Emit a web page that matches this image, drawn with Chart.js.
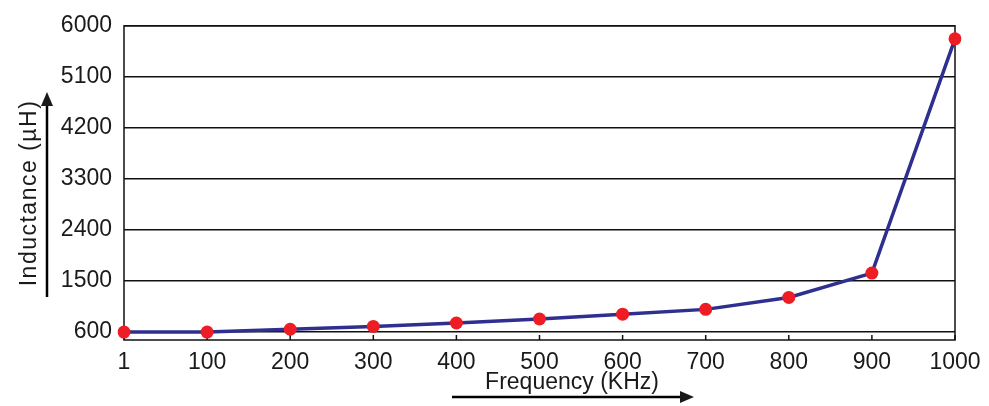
<!DOCTYPE html>
<html>
<head>
<meta charset="utf-8">
<script src="https://cdn.jsdelivr.net/npm/chart.js@4.4.1/dist/chart.umd.min.js"></script>
<style>
  html, body { margin: 0; padding: 0; background: #fff; }
  #wrap { width: 989px; height: 406px; position: relative; }
</style>
</head>
<body>
<div id="wrap"><canvas id="chart"></canvas></div>
<script>
// frequency categories (KHz) and inductance readings (µH)
const FREQ_LABELS = ['1', '100', '200', '300', '400', '500', '600', '700', '800', '900', '1000'];
const INDUCTANCE  = [600, 600, 650, 700, 760, 830, 915, 1000, 1210, 1640, 5770];
const Y_TICKS     = [600, 1500, 2400, 3300, 4200, 5100, 6000];

const FONT = { family: '"Liberation Sans", Arial, sans-serif', size: 23 };
const TEXT_COLOR = '#1a1a1a';

// frame, inner x ticks, axis titles and the two arrows
const decorPlugin = {
  id: 'decor',
  beforeDatasetsDraw(chart) {
    const { ctx, chartArea: a, scales } = chart;
    ctx.save();
    ctx.strokeStyle = '#111';
    ctx.lineWidth = 1.5;
    ctx.strokeRect(a.left, a.top, a.right - a.left, a.bottom - a.top);
    // small tick marks pointing up into the plot
    scales.x.ticks.forEach((t, i) => {
      const x = scales.x.getPixelForTick(i);
      ctx.beginPath();
      ctx.moveTo(x, a.bottom);
      ctx.lineTo(x, a.bottom - 5);
      ctx.stroke();
    });
    ctx.restore();
  },
  afterDraw(chart) {
    const { ctx } = chart;
    ctx.save();
    ctx.fillStyle = TEXT_COLOR;
    ctx.strokeStyle = '#000';
    ctx.font = `${FONT.size}px ${FONT.family}`;
    ctx.textAlign = 'center';
    ctx.textBaseline = 'middle';

    // x title + arrow
    ctx.fillText('Frequency (KHz)', 572, 383);
    ctx.lineWidth = 2.5;
    ctx.beginPath(); ctx.moveTo(452, 397); ctx.lineTo(682, 397); ctx.stroke();
    ctx.beginPath(); ctx.moveTo(694, 397); ctx.lineTo(680, 391); ctx.lineTo(680, 403); ctx.closePath(); ctx.fill();

    // y title + arrow
    ctx.save();
    ctx.translate(30, 193);
    ctx.rotate(-Math.PI / 2);
    ctx.letterSpacing = '1.5px';
    ctx.fillText('Inductance (µH)', 0, 0);
    ctx.restore();
    ctx.beginPath(); ctx.moveTo(47, 297); ctx.lineTo(47, 104); ctx.stroke();
    ctx.beginPath(); ctx.moveTo(47, 92); ctx.lineTo(41, 106); ctx.lineTo(53, 106); ctx.closePath(); ctx.fill();
    ctx.restore();
  }
};

new Chart(document.getElementById('chart'), {
  type: 'line',
  data: {
    labels: FREQ_LABELS,
    datasets: [{
      data: INDUCTANCE,
      borderColor: '#2e2f8f',
      borderWidth: 3.5,
      tension: 0,
      pointRadius: 6.5,
      pointBackgroundColor: '#ee1c25',
      pointBorderColor: '#ee1c25',
      pointBorderWidth: 0
    }]
  },
  options: {
    responsive: true,
    maintainAspectRatio: false,
    animation: false,
    layout: { padding: { top: 18, right: 34, left: 0, bottom: 0 } },
    plugins: { legend: { display: false }, tooltip: { enabled: false } },
    scales: {
      x: {
        type: 'category',
        offset: false,
        grid: { display: false },
        border: { display: false },
        ticks: { color: TEXT_COLOR, font: FONT, padding: 1, maxRotation: 0, autoSkip: false },
        afterFit: s => { s.height = 66; }
      },
      y: {
        min: 460,
        max: 6000,
        afterBuildTicks: s => { s.ticks = Y_TICKS.map(v => ({ value: v })); },
        grid: { color: '#111', lineWidth: 1.5, drawTicks: false },
        border: { display: false },
        ticks: { color: TEXT_COLOR, font: FONT, padding: 12, callback: v => String(v) },
        afterFit: s => { s.width = 124; }
      }
    }
  },
  plugins: [decorPlugin]
});
</script>
</body>
</html>
